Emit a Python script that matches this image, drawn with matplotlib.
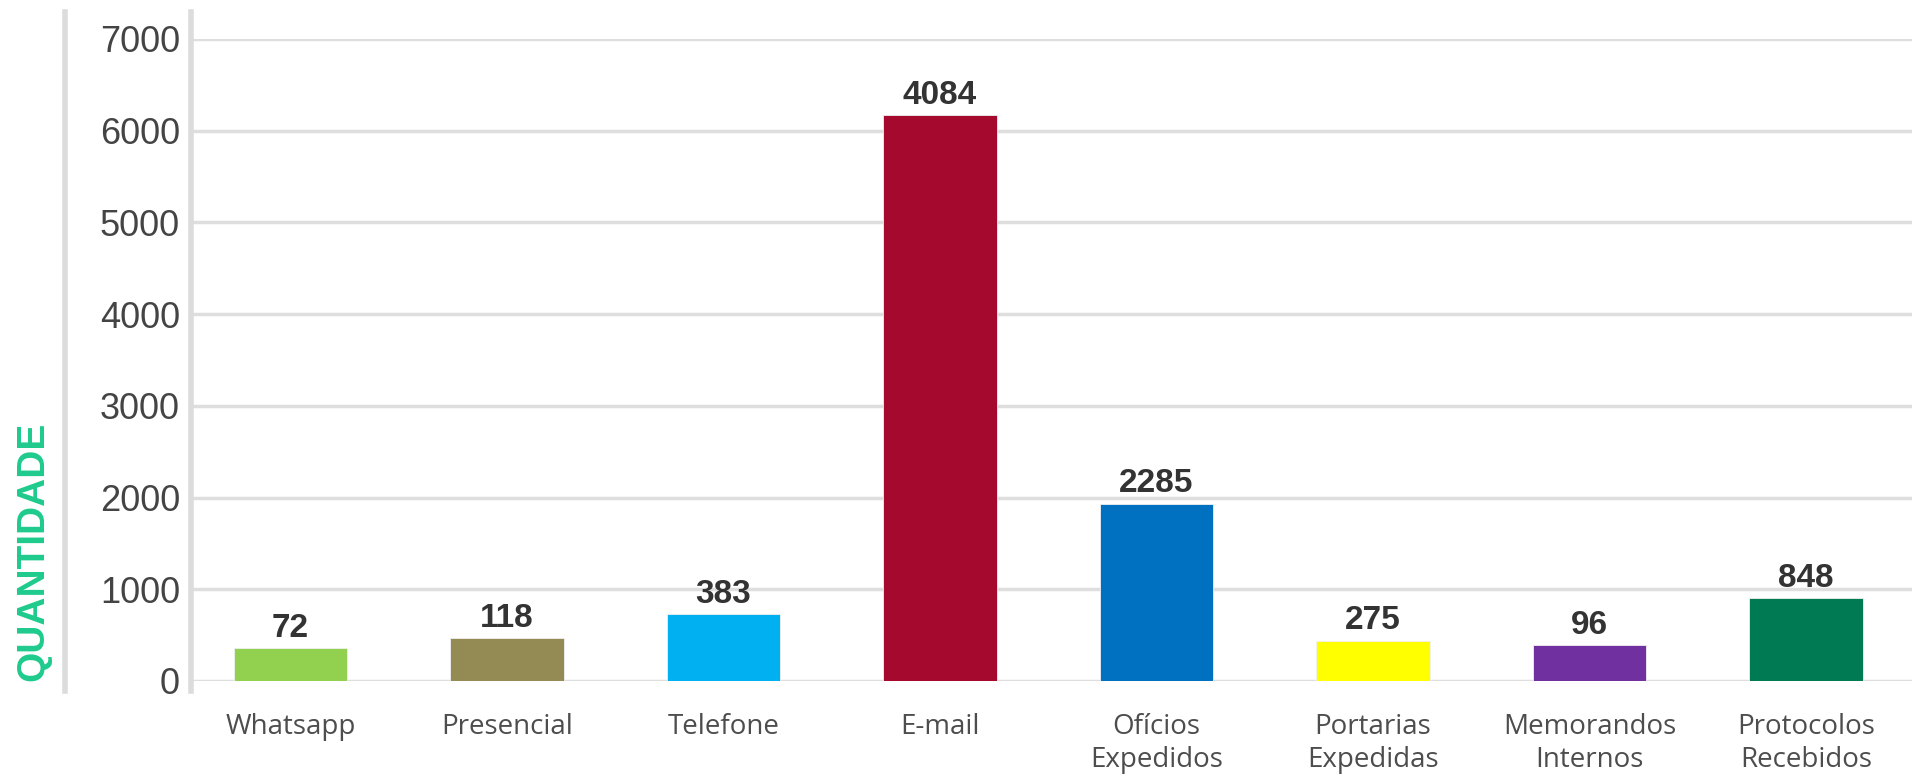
import matplotlib.pyplot as plt
from matplotlib.lines import Line2D

# categories as they appear on the x axis
categories = ['Whatsapp', 'Presencial', 'Telefone', 'E-mail', 'Ofícios\nExpedidos',
              'Portarias\nExpedidas', 'Memorandos\nInternos', 'Protocolos\nRecebidos']
bar_heights = [357, 466, 728, 6168, 1935, 440, 389, 902]
# numbers printed above the bars
bar_labels = ['72', '118', '383', '4084', '2285', '275', '96', '848']
colors = ['#92d050', '#948a54', '#00b0f0', '#a50a2e', '#0070c0',
          '#ffff00', '#7030a0', '#007a52']
yticks = [0, 1000, 2000, 3000, 4000, 5000, 6000, 7000]

W, H = 1912, 777
fig = plt.figure(figsize=(W / 100, H / 100), dpi=100)
ax = fig.add_axes([191 / W, 1 - 681 / H, 1 - 191 / W, (681 - 39) / H])

x = range(len(categories))
ax.bar(x, bar_heights, width=0.525, color=colors, zorder=3,
       edgecolor='#f0f0f0', linewidth=0.6)

ax.set_xlim(-0.46, 7.49)
ax.set_ylim(0, 7000)
ax.set_yticks(yticks)
ax.set_yticklabels([str(v) for v in yticks], fontsize=26, color='#444444',
                   family=['Liberation Sans', 'DejaVu Sans'])
ax.set_xticks(list(x))
ax.set_xticklabels(categories, fontsize=20, color='#4d4d4d',
                   family=['Open Sans', 'DejaVu Sans'], linespacing=1.25)
ax.tick_params(axis='y', length=0, pad=8)
ax.tick_params(axis='x', length=0, pad=23)

ax.grid(axis='y', color='#dedede', linewidth=2.5, zorder=0)
for s in ax.spines.values():
    s.set_visible(False)

# value labels above bars
for i, (h, t) in enumerate(zip(bar_heights, bar_labels)):
    ax.annotate(t, (i, h), xytext=(0, 3), textcoords='offset points',
                ha='center', va='bottom', fontsize=24, fontweight='bold',
                color='#333333', family=['Liberation Sans', 'DejaVu Sans'])

# vertical rules on the left (axis line and outer divider)
for xp in (191, 65):
    fig.add_artist(Line2D([xp / W, xp / W], [1 - 12 / H, 1 - 691 / H],
                          transform=fig.transFigure, color='#dcdcdc', linewidth=4))

fig.text(33 / W, 1 - 551 / H, 'QUANTIDADE', rotation=90, ha='center',
         va='center', fontsize=28, fontweight='bold', color='#1ecb8c',
         family=['Liberation Sans', 'DejaVu Sans'])

fig.savefig('out.png', dpi=100)
